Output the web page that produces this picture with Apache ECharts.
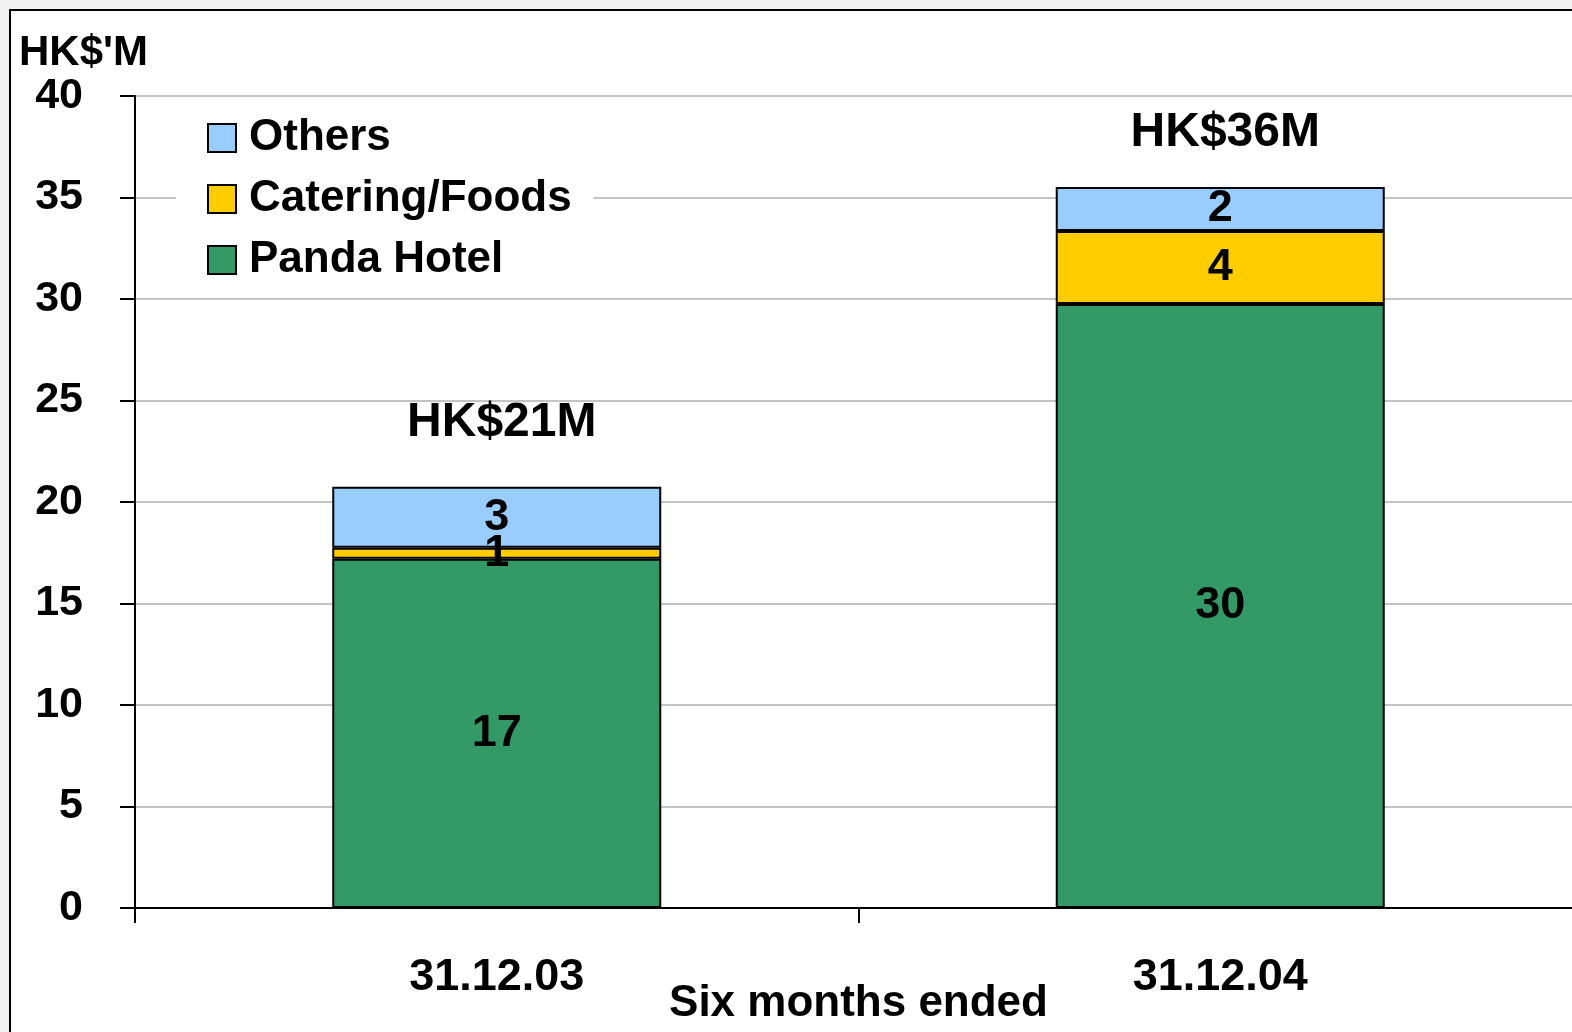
<!doctype html>
<html>
<head>
    <meta charset="utf-8">
    <title>Panda Hotel segments</title>
    <style>
    html, body {
      margin: 0;
      padding: 0;
      background: #f2f2f2;
      overflow: hidden;
    }
    .frame {
      position: absolute;
      left: 9px;
      top: 9px;
      width: 1600px;
      height: 1100px;
      border: 2px solid #000;
      background: #fff;
    }
    #main {
      position: absolute;
      left: 0;
      top: 0;
      width: 1572px;
      height: 1032px;
    }
    </style>
</head>
<body>
    <div class="frame"></div>
    <div id="main"></div>
    <script src="https://cdn.jsdelivr.net/npm/echarts@6/dist/echarts.min.js"></script>
    <script>
    // data (HK$ million)
    var categories = ['31.12.03', '31.12.04'];
    var pandaHotel = [17.2, 29.75];
    var catering = [0.55, 3.6];
    var others = [3.0, 2.17];
    var yTicks = [0, 40, 5]; // min, max, step

    var totals = categories.map(function(c, i) {
        return pandaHotel[i] + catering[i] + others[i];
    });

    var font = "'Liberation Sans', Arial, sans-serif";

    function segLabel() {
        return {
            show: true,
            position: 'inside',
            color: '#000',
            fontSize: 45,
            fontWeight: 'bold',
            fontFamily: font,
            formatter: function(p) { return Math.round(p.value); }
        };
    }

    function barSeries(name, data, color) {
        return {
            name: name,
            type: 'bar',
            stack: 'total',
            barWidth: 329,
            data: data,
            itemStyle: { color: color, borderColor: '#000', borderWidth: 2 },
            label: segLabel(),
            emphasis: { disabled: true }
        };
    }

    var totalLabel = {
        show: true,
        position: 'top',
        color: '#000',
        opacity: 1,
        fontSize: 48,
        fontWeight: 'bold',
        fontFamily: font,
        offset: [5, 0],
        formatter: function(p) { return 'HK$' + Math.round(p.value) + 'M'; }
    };

    var chart = echarts.init(document.getElementById('main'));
    chart.setOption({
        animation: false,
        title: {
            text: "HK$'M",
            left: 14,
            top: 27,
            textStyle: { color: '#000', fontSize: 42, fontWeight: 'bold', fontFamily: font }
        },
        legend: {
            data: ['Others', 'Catering/Foods', 'Panda Hotel'],
            orient: 'vertical',
            left: 176,
            top: 106,
            padding: [10, 22, 10, 31],
            backgroundColor: '#fff',
            icon: 'rect',
            itemWidth: 28,
            itemHeight: 28,
            itemGap: 17,
            itemStyle: { borderColor: '#000', borderWidth: 2 },
            textStyle: {
                color: '#000', fontSize: 44, fontWeight: 'bold', fontFamily: font,
                lineHeight: 44, padding: [0, 0, 0, 8]
            }
        },
        grid: { left: 135, right: -10, top: 96, bottom: 124, outerBoundsMode: 'none', containLabel: false },
        xAxis: {
            type: 'category',
            data: categories,
            name: 'Six months ended',
            nameLocation: 'middle',
            nameGap: 74,
            nameMoveOverlap: false,
            nameTextStyle: { color: '#000', fontSize: 44, fontWeight: 'bold', fontFamily: font },
            axisLine: { lineStyle: { color: '#000', width: 2 } },
            axisTick: { show: true, alignWithLabel: false, length: 15, lineStyle: { color: '#000', width: 2 } },
            axisLabel: { margin: 47, color: '#000', fontSize: 45, fontWeight: 'bold', fontFamily: font }
        },
        yAxis: {
            type: 'value',
            min: yTicks[0],
            max: yTicks[1],
            interval: yTicks[2],
            axisLine: { show: true, lineStyle: { color: '#000', width: 2 } },
            axisTick: { show: true, length: 15, lineStyle: { color: '#000', width: 2 } },
            axisLabel: { margin: 52, color: '#000', fontSize: 43, fontWeight: 'bold', fontFamily: font },
            splitLine: { lineStyle: { color: '#c4c4c4', width: 2 } }
        },
        series: [
            barSeries('Panda Hotel', pandaHotel, '#339966'),
            barSeries('Catering/Foods', catering, '#ffcc00'),
            barSeries('Others', others, '#99ccff'),
            {
                name: 'Total',
                type: 'scatter',
                silent: true,
                symbolSize: 1,
                itemStyle: { color: '#fff', opacity: 0 },
                data: totals.map(function(t, i) {
                    return {
                        value: t,
                        label: Object.assign({}, totalLabel, { distance: i === 0 ? 40 : 30 })
                    };
                }),
                label: totalLabel
            }
        ]
    });
    </script>
</body>
</html>
